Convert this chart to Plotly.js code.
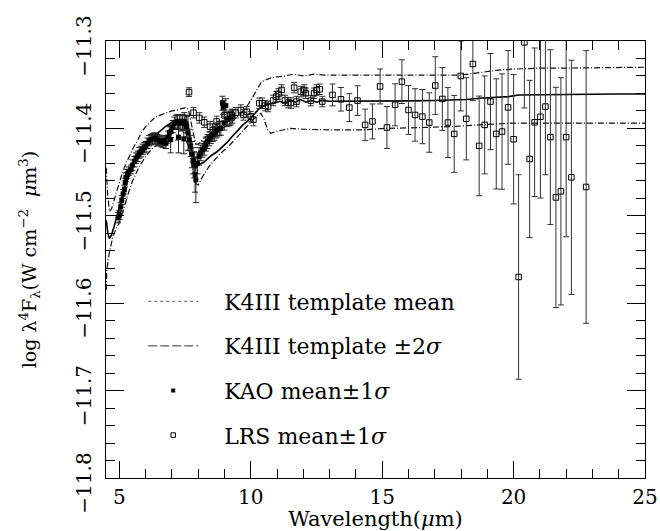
<!DOCTYPE html>
<html>
<head>
<meta charset="utf-8">
<script src="https://cdn.plot.ly/plotly-3.0.1.min.js"></script>
<style>html,body{margin:0;padding:0;background:#fff;}#chart{width:660px;height:531px;}</style>
</head>
<body>
<div id="chart"></div>
<script>
// Template mean curve
const meanX = [4.5,4.56,4.62,4.7,4.8,4.9,5.0,5.1,5.2,5.3,5.4,5.5,5.6,5.7,5.8,5.9,6.0,6.15,6.3,6.45,6.6,6.75,6.9,7.05,7.2,7.35,7.5,7.58,7.65,7.72,7.8,7.88,7.95,8.05,8.2,8.35,8.5,8.7,8.9,9.1,9.3,9.5,9.7,9.9,10.1,10.3,10.5,10.7,10.9,11.1,11.3,11.5,11.7,11.9,12.1,12.3,12.5,12.7,13.0,13.5,14.0,15.0,16.0,17.0,17.6,18.2,18.7,19.3,19.8,20.2,21.0,22.0,23.0,24.0,25.0];
const meanY = [-11.505,-11.52,-11.526,-11.522,-11.512,-11.5,-11.49,-11.48,-11.469,-11.46,-11.452,-11.445,-11.438,-11.432,-11.427,-11.422,-11.418,-11.413,-11.409,-11.405,-11.402,-11.398,-11.395,-11.392,-11.391,-11.39,-11.39,-11.393,-11.402,-11.418,-11.436,-11.446,-11.444,-11.441,-11.439,-11.435,-11.431,-11.427,-11.422,-11.416,-11.409,-11.402,-11.396,-11.391,-11.385,-11.378,-11.374,-11.372,-11.371,-11.369,-11.371,-11.368,-11.37,-11.367,-11.37,-11.368,-11.37,-11.368,-11.369,-11.369,-11.369,-11.369,-11.3685,-11.368,-11.3675,-11.367,-11.3655,-11.3648,-11.3636,-11.3617,-11.3613,-11.361,-11.361,-11.3607,-11.3606];
// Template +2 sigma
const upX = [4.5,4.55,4.62,4.7,4.8,4.95,5.1,5.25,5.4,5.55,5.7,5.85,6.0,6.15,6.3,6.45,6.6,6.8,7.0,7.2,7.4,7.55,7.63,7.7,7.8,7.9,8.0,8.15,8.3,8.6,8.9,9.2,9.5,9.8,10.0,10.2,10.4,10.6,10.8,11.0,11.3,11.6,12.0,12.4,12.8,13.5,14.5,15.5,16.5,17.5,18.0,18.5,19.0,19.5,20.0,21.0,22.0,23.0,24.0,25.0];
const upY = [-11.445,-11.475,-11.495,-11.492,-11.482,-11.466,-11.452,-11.44,-11.43,-11.421,-11.413,-11.404,-11.398,-11.393,-11.389,-11.386,-11.384,-11.382,-11.38,-11.379,-11.377,-11.376,-11.379,-11.39,-11.405,-11.418,-11.418,-11.413,-11.409,-11.404,-11.4,-11.395,-11.386,-11.377,-11.368,-11.357,-11.347,-11.344,-11.342,-11.341,-11.34,-11.338,-11.34,-11.338,-11.339,-11.339,-11.339,-11.339,-11.339,-11.339,-11.339,-11.337,-11.335,-11.333,-11.3322,-11.331,-11.331,-11.3305,-11.3305,-11.33];
// Template -2 sigma
const loX = [4.5,4.52,4.6,4.75,4.9,5.0,5.15,5.3,5.5,5.75,6.0,6.25,6.5,6.75,7.0,7.25,7.5,7.6,7.7,7.8,7.9,8.0,8.15,8.4,8.8,9.2,9.6,9.95,10.2,10.38,10.5,10.63,10.76,10.95,11.2,11.5,12.0,13.0,14.25,15.1,16.5,17.6,18.7,19.9,21.0,22.0,23.0,24.0,25.0];
const loY = [-11.585,-11.562,-11.545,-11.524,-11.513,-11.508,-11.494,-11.478,-11.46,-11.444,-11.432,-11.423,-11.418,-11.416,-11.414,-11.413,-11.412,-11.418,-11.433,-11.452,-11.463,-11.465,-11.456,-11.444,-11.43,-11.419,-11.406,-11.394,-11.3865,-11.3826,-11.389,-11.401,-11.4055,-11.4036,-11.402,-11.4,-11.401,-11.4017,-11.4017,-11.4,-11.399,-11.398,-11.396,-11.394,-11.394,-11.394,-11.394,-11.394,-11.394];
// KAO mean +/- 1 sigma
const kaoX = [4.95,5.0,5.05,5.09,5.14,5.19,5.22,5.25,5.3,5.35,5.44,5.5,5.57,5.63,5.7,5.76,5.82,5.88,5.94,6.01,6.07,6.13,6.2,6.26,6.33,6.39,6.45,6.52,6.58,6.65,6.71,6.77,6.84,6.9,6.95,6.96,7.03,7.09,7.15,7.21,7.25,7.28,7.34,7.4,7.45,7.47,7.53,7.56,7.61,7.66,7.71,7.76,7.8,7.85,7.88,7.91,7.97,8.03,8.1,8.16,8.23,8.29,8.35,8.42,8.48,8.55,8.61,8.67,8.73,8.8,8.86,8.92,8.95,8.99,9.05,9.11,9.18,9.24,9.3];
const kaoY = [-11.502,-11.499,-11.49,-11.482,-11.475,-11.47,-11.462,-11.456,-11.452,-11.449,-11.447,-11.442,-11.438,-11.434,-11.432,-11.428,-11.4265,-11.424,-11.422,-11.421,-11.417,-11.414,-11.413,-11.412,-11.411,-11.412,-11.413,-11.414,-11.415,-11.416,-11.414,-11.417,-11.41,-11.405,-11.413,-11.4036,-11.398,-11.394,-11.393,-11.392,-11.41,-11.393,-11.394,-11.393,-11.412,-11.392,-11.395,-11.398,-11.405,-11.413,-11.42,-11.43,-11.437,-11.4417,-11.453,-11.4589,-11.44,-11.432,-11.428,-11.425,-11.4226,-11.418,-11.415,-11.412,-11.4094,-11.407,-11.4055,-11.403,-11.4017,-11.4,-11.3998,-11.3712,-11.376,-11.394,-11.374,-11.39,-11.389,-11.388,-11.386];
const kaoErr = [0.006,0.005,0.005,0.005,0.005,0.005,0.005,0.005,0.005,0.005,0.005,0.006,0.006,0.006,0.006,0.006,0.006,0.006,0.006,0.006,0.006,0.006,0.006,0.006,0.006,0.006,0.006,0.006,0.006,0.006,0.006,0.006,0.007,0.007,0.015,0.007,0.007,0.007,0.008,0.008,0.018,0.008,0.009,0.009,0.017,0.01,0.01,0.012,0.02,0.012,0.012,0.015,0.015,0.015,0.02,0.026,0.012,0.01,0.009,0.008,0.008,0.008,0.008,0.008,0.008,0.008,0.008,0.008,0.008,0.008,0.008,0.008,0.008,0.008,0.008,0.008,0.008,0.008,0.008];
// IRAS LRS mean +/- 1 sigma
const lrsX = [7.65,7.82,8.04,8.23,8.45,8.7,9.0,9.28,9.43,9.62,9.72,9.85,10.0,10.1,10.32,10.44,10.55,10.66,10.85,10.97,11.05,11.17,11.3,11.42,11.53,11.65,11.74,11.9,12.03,12.09,12.28,12.41,12.5,12.62,12.72,13.11,13.43,13.75,14.06,14.35,14.63,14.92,15.18,15.49,15.75,16.0,16.25,16.53,16.79,17.02,17.29,17.5,17.74,17.99,18.2,18.45,18.69,18.9,19.12,19.34,19.56,19.79,20.0,20.19,20.41,20.61,20.8,21.02,21.21,21.4,21.61,21.8,22.0,22.2,22.76];
const lrsY = [-11.3585,-11.382,-11.388,-11.393,-11.398,-11.392,-11.385,-11.3846,-11.382,-11.379,-11.3846,-11.381,-11.3865,-11.39,-11.3712,-11.3712,-11.374,-11.375,-11.368,-11.3636,-11.3606,-11.356,-11.368,-11.3705,-11.371,-11.3534,-11.3693,-11.358,-11.356,-11.3598,-11.3682,-11.3598,-11.356,-11.3552,-11.3693,-11.3617,-11.3667,-11.3762,-11.3682,-11.396,-11.392,-11.352,-11.399,-11.373,-11.3465,-11.3789,-11.3846,-11.3865,-11.3933,-11.351,-11.3663,-11.3933,-11.4063,-11.34,-11.389,-11.3263,-11.42,-11.396,-11.3693,-11.4063,-11.4036,-11.376,-11.4124,-11.57,-11.3016,-11.435,-11.393,-11.3867,-11.375,-11.41,-11.479,-11.472,-11.41,-11.456,-11.467];
const lrsErr = [0.005,0.006,0.006,0.006,0.006,0.006,0.006,0.006,0.006,0.006,0.006,0.006,0.006,0.007,0.006,0.006,0.006,0.006,0.006,0.006,0.006,0.006,0.006,0.006,0.006,0.006,0.006,0.006,0.006,0.006,0.006,0.006,0.006,0.006,0.006,0.0125,0.0135,0.016,0.017,0.018,0.02,0.02,0.024,0.024,0.025,0.028,0.03,0.031,0.034,0.033,0.036,0.04,0.044,0.04,0.047,0.042,0.057,0.056,0.055,0.063,0.066,0.065,0.074,0.117,0.075,0.09,0.085,0.093,0.078,0.1,0.126,0.13,0.114,0.134,0.156];
// Legend labels
const legendNames = ["K4III template mean", "K4III template \u00b12<i>\u03c3</i>", "KAO mean\u00b11<i>\u03c3</i>", "LRS mean\u00b11<i>\u03c3</i>"];

const FONT = "DejaVu Serif, Liberation Serif, serif";
const pad = "\u00a0\u00a0\u00a0";

const traces = [
  {x: upX, y: upY, mode: 'lines', line: {color: '#111', width: 1.2, dash: '6px,2px,1px,2px'}, showlegend: false, hoverinfo: 'skip'},
  {x: loX, y: loY, mode: 'lines', line: {color: '#111', width: 1.2, dash: '6px,2px,1px,2px'}, showlegend: false, hoverinfo: 'skip'},
  {x: meanX, y: meanY, mode: 'lines', line: {color: '#000', width: 1.6}, showlegend: false},
  {x: kaoX, y: kaoY, mode: 'markers', marker: {symbol: 'square', size: 5, color: '#000'},
   error_y: {type: 'data', array: kaoErr, visible: true, color: '#222', thickness: 1, width: 3}, showlegend: false},
  {x: lrsX, y: lrsY, mode: 'markers', marker: {symbol: 'square-open', size: 5.5, color: '#000', line: {width: 1}},
   error_y: {type: 'data', array: lrsErr, visible: true, color: '#333', thickness: 1, width: 3}, showlegend: false},
  // legend entries
  {x: [null], y: [null], mode: 'lines', name: pad + legendNames[0], line: {color: '#555', width: 1, dash: 'dot'}, legendgroup: 'a'},
  {x: [null], y: [null], mode: 'lines', name: pad + legendNames[1], line: {color: '#333', width: 1, dash: '9px,3px'}, legendgroup: 'b'},
  {x: [null], y: [null], mode: 'markers', name: pad + legendNames[2], marker: {symbol: 'square', size: 4, color: '#000'}, legendgroup: 'c'},
  {x: [null], y: [null], mode: 'markers', name: pad + legendNames[3], marker: {symbol: 'square-open', size: 4.5, color: '#000', line: {width: 1}}, legendgroup: 'd'}
];

const layout = {
  width: 660, height: 531,
  margin: {l: 106, r: 15, t: 41, b: 52.5},
  paper_bgcolor: '#fff', plot_bgcolor: '#fff',
  font: {family: FONT, size: 20, color: '#000'},
  showlegend: true,
  legend: {x: 0.069, y: 0.452, xanchor: 'left', yanchor: 'top', bgcolor: 'rgba(0,0,0,0)',
           font: {family: FONT, size: 22, color: '#000'}, itemwidth: 50, tracegroupgap: 13, traceorder: 'grouped'},
  xaxis: {
    range: [4.49, 25], showgrid: false, zeroline: false,
    showline: true, linecolor: '#000', linewidth: 1, mirror: 'allticks',
    ticks: 'inside', ticklen: 17, tickwidth: 1, tickcolor: '#000',
    tickvals: [5, 10, 15, 20, 25],
    minor: {dtick: 1, ticks: 'inside', ticklen: 9, tickcolor: '#000', tickwidth: 1, showgrid: false},
    tickfont: {family: FONT, size: 20},
    ticklabelstandoff: 1,
    title: {text: 'Wavelength(<i>\u03bc</i>m)', font: {family: FONT, size: 21}, standoff: 5}
  },
  yaxis: {
    range: [-11.8, -11.3], showgrid: false, zeroline: false,
    showline: true, linecolor: '#000', linewidth: 1, mirror: 'allticks',
    ticks: 'inside', ticklen: 18, tickwidth: 1, tickcolor: '#000',
    tickvals: [-11.8, -11.7, -11.6, -11.5, -11.4, -11.3],
    tickformat: '.1f', tickangle: -90,
    ticklabelstandoff: 6, ticklabelshift: 8,
    minor: {dtick: 0.02, ticks: 'inside', ticklen: 9, tickcolor: '#000', tickwidth: 1, showgrid: false},
    tickfont: {family: FONT, size: 20},
    title: {text: 'log \u03bb<sup>4</sup>F<sub>\u03bb</sub>(W cm<sup>\u22122</sup>  <i>\u03bc</i>m<sup>3</sup>)', font: {family: FONT, size: 19}, standoff: 30}
  }
};

Plotly.newPlot('chart', traces, layout, {displayModeBar: false, staticPlot: true});
</script>
</body>
</html>
